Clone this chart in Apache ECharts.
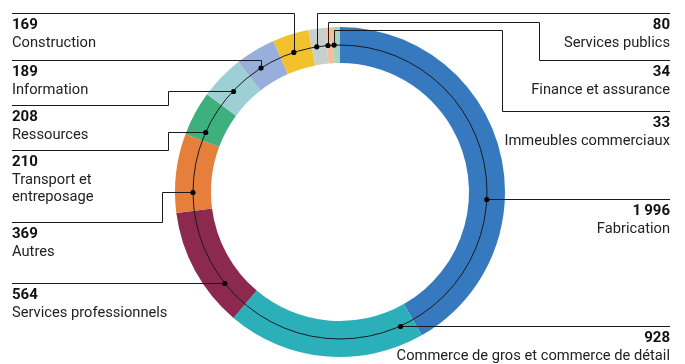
<!DOCTYPE html>
<html>
<head>
<meta charset="utf-8">
<script src="https://cdn.jsdelivr.net/npm/echarts@6/dist/echarts.min.js"></script>
<style>html,body{margin:0;padding:0;background:#fff}#c{width:685px;height:364px}</style>
</head>
<body>
<div id="c"></div>
<script>
// ---- data ----
const categories = ['Fabrication','Commerce de gros et commerce de détail','Services professionnels','Autres','Transport et\nentreposage','Ressources','Information','Construction','Services publics','Finance et assurance','Immeubles commerciaux'];
const values = [1996, 928, 564, 369, 210, 208, 189, 169, 80, 34, 33];
const colors = ['#3679BF','#2BB0B9','#8B2A4E','#E57F3B','#3DB07E','#9DD0D5','#98AEDB','#F2C12E','#C7D0CC','#F5BE9E','#A6D6BD'];

// ---- layout (annotation positions) ----
const CX = 340, CY = 192, R_IN = 129, R_OUT = 165, R_MID = 147;
const LEFT_X = 12, RIGHT_X = 670;
// side, anchor angle (deg clockwise from top), path type, ruleY, elbowX, elbowY
const layout = [
  {side:'R', ang:92.7, type:'h'},
  {side:'R', ang:155.7, type:'h'},
  {side:'L', ang:231.6, type:'h'},
  {side:'L', ang:270, type:'elbow', ruleY:222, ex:162},
  {side:'L', ang:294, type:'elbow', ruleY:150, ex:168},
  {side:'L', ang:313.6, type:'elbow', ruleY:105, ex:168},
  {side:'L', ang:327.5, type:'v', ruleY:60},
  {side:'L', ang:341.7, type:'v', ruleY:13},
  {side:'R', ang:350.9, type:'v', ruleY:13},
  {side:'R', ang:355.3, type:'elbow2', ruleY:60, ex:539, ey:22},
  {side:'R', ang:357.7, type:'elbow2', ruleY:111, ex:502, ey:30}
];

function fmt(v){ return String(v).replace(/\B(?=(\d{3})+(?!\d))/g, '\u2009'); }
function px(v){ return Math.round(v) + 0.5; }

const chart = echarts.init(document.getElementById('c'), null, {renderer:'canvas'});
const FONT = 'Roboto, "Liberation Sans", sans-serif';
const LINE = '#1a1a1a';

const graphics = [];
graphics.push({type:'circle', shape:{cx:CX, cy:CY, r:R_MID}, style:{fill:'none', stroke:LINE, lineWidth:1}, z:10, silent:true});

layout.forEach((L, i) => {
  const a = L.ang * Math.PI / 180;
  const dx = CX + R_MID * Math.sin(a);
  const dy = CY - R_MID * Math.cos(a);
  const sx = L.side === 'L' ? LEFT_X : RIGHT_X;
  let pts;
  let ruleY;
  if (L.type === 'h') { ruleY = Math.round(dy); pts = [[sx, px(ruleY)], [dx, px(ruleY)]]; }
  else if (L.type === 'v') { ruleY = L.ruleY; pts = [[sx, px(ruleY)], [px(dx), px(ruleY)], [px(dx), dy]]; }
  else if (L.type === 'elbow') { ruleY = L.ruleY; pts = [[sx, px(ruleY)], [px(L.ex), px(ruleY)], [px(L.ex), px(dy)], [dx, px(dy)]]; }
  else { ruleY = L.ruleY; pts = [[sx, px(ruleY)], [px(L.ex), px(ruleY)], [px(L.ex), px(L.ey)], [px(dx), px(L.ey)], [px(dx), dy]]; }
  graphics.push({type:'polyline', shape:{points:pts}, style:{fill:'none', stroke:LINE, lineWidth:1}, z:11, silent:true});
  graphics.push({type:'circle', shape:{cx:dx, cy:(L.type==='h'||L.type==='elbow')? px(dy): dy, r:2.6}, style:{fill:'#000'}, z:12, silent:true});
  const align = L.side === 'L' ? 'left' : 'right';
  graphics.push({type:'text', x:sx, y:ruleY + 12, style:{text:fmt(values[i]), font:'bold 15px ' + FONT, fill:'#111', align:align, verticalAlign:'middle'}, z:12, silent:true});
  graphics.push({type:'text', x:sx, y:ruleY + 21.5, style:{text:categories[i], font:'14.7px ' + FONT, fill:'#222', align:align, verticalAlign:'top', lineHeight:17}, z:12, silent:true});
});

chart.setOption({
  animation:false,
  series:[{
    type:'pie',
    center:[CX, CY],
    radius:[R_IN, R_OUT],
    startAngle:90,
    clockwise:true,
    silent:true,
    label:{show:false},
    labelLine:{show:false},
    itemStyle:{borderWidth:0},
    data: categories.map((c, i) => ({name:c, value:values[i], itemStyle:{color:colors[i]}}))
  }],
  graphic: graphics
});
</script>
</body>
</html>
